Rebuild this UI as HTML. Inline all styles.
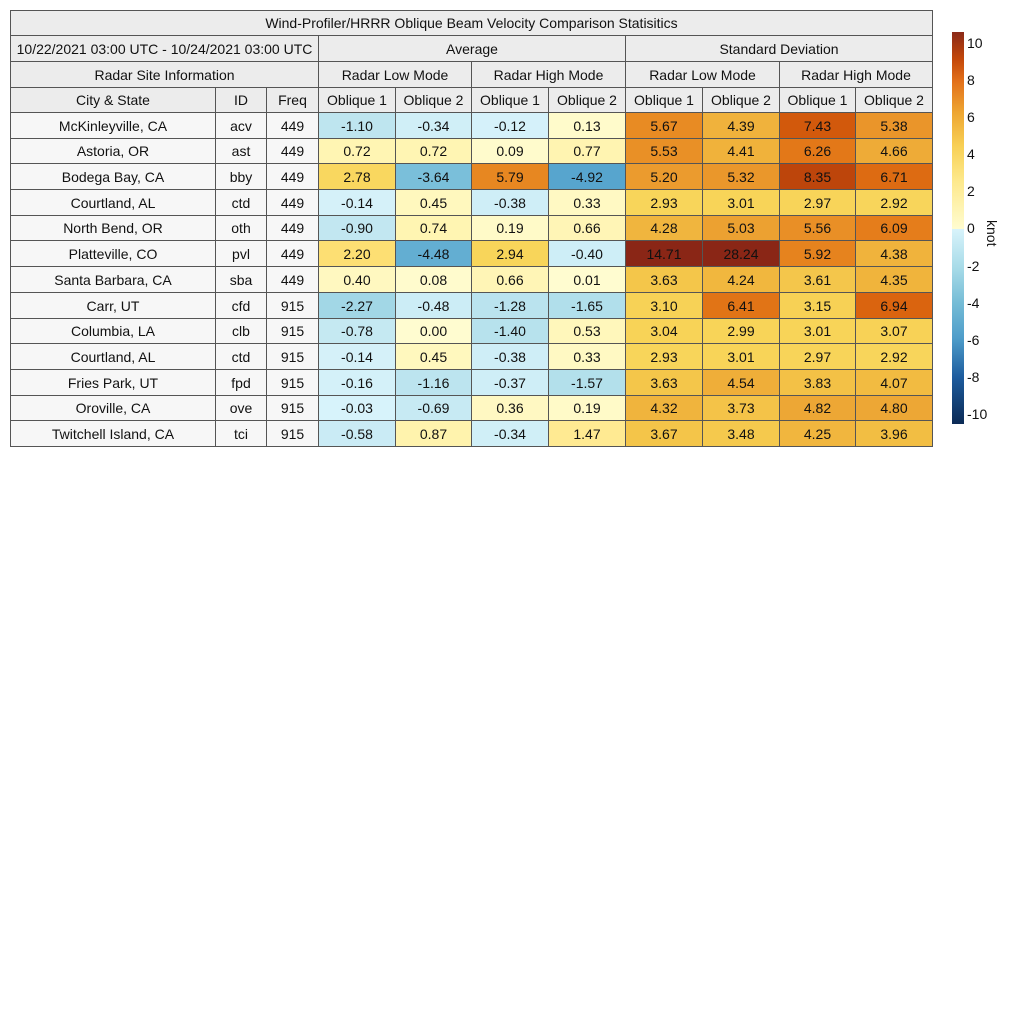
<!DOCTYPE html>
<html><head><meta charset="utf-8"><style>
body{margin:0;width:1024px;height:1024px;background:#fff;position:relative;overflow:hidden;font-family:"Liberation Sans",sans-serif;}
.c{position:absolute;box-sizing:border-box;border:1px solid #555;display:flex;align-items:center;justify-content:center;font-size:14px;color:#111;margin:0 -1px -1px 0;white-space:nowrap;}
.t{position:absolute;font-size:14px;color:#111;}
</style></head><body>
<div id="root"></div>
<div style="position:absolute;left:952px;top:32px;width:12px;height:197px;background:linear-gradient(to bottom,#8b2a18 0%,#c4480a 14%,#e2701a 25%,#eea632 41%,#f8d055 58%,#fde88a 75%,#fffcd0 100%);"></div>
<div style="position:absolute;left:952px;top:229px;width:12px;height:195px;background:linear-gradient(to bottom,#d8f3fb 0%,#a7dbe8 20%,#75bcd6 38%,#4e9dca 56%,#1d5c9e 76%,#0b2a55 100%);"></div>
<div class="t" style="left:967px;top:35px">10</div>
<div class="t" style="left:967px;top:72px">8</div>
<div class="t" style="left:967px;top:109px">6</div>
<div class="t" style="left:967px;top:146px">4</div>
<div class="t" style="left:967px;top:183px">2</div>
<div class="t" style="left:967px;top:220px">0</div>
<div class="t" style="left:967px;top:258px">-2</div>
<div class="t" style="left:967px;top:295px">-4</div>
<div class="t" style="left:967px;top:332px">-6</div>
<div class="t" style="left:967px;top:369px">-8</div>
<div class="t" style="left:967px;top:406px">-10</div>
<div class="t" style="left:978px;top:220px;transform:rotate(90deg);transform-origin:left top;left:1000px">knot</div>
<script>
const R=document.getElementById('root');
function cell(x1,y1,x2,y2,txt,bg){const d=document.createElement('div');d.className='c';d.style.left=x1+'px';d.style.top=y1+'px';d.style.width=(x2-x1+1)+'px';d.style.height=(y2-y1+1)+'px';d.style.background=bg;d.textContent=txt;R.appendChild(d);}
const X=[10,215,266,318,395,471,548,625,702,779,855,932];
const H='#ececec';
cell(10,10,932,35,'Wind-Profiler/HRRR Oblique Beam Velocity Comparison Statisitics',H);
cell(10,35,318,61,'10/22/2021 03:00 UTC - 10/24/2021 03:00 UTC',H);
cell(318,35,625,61,'Average',H);
cell(625,35,932,61,'Standard Deviation',H);
cell(10,61,318,87,'Radar Site Information',H);
['Radar Low Mode','Radar High Mode','Radar Low Mode','Radar High Mode'].forEach((t,i)=>cell(X[3+2*i],61,X[5+2*i],87,t,H));
const hd=['City & State','ID','Freq','Oblique 1','Oblique 2','Oblique 1','Oblique 2','Oblique 1','Oblique 2','Oblique 1','Oblique 2'];
hd.forEach((t,i)=>cell(X[i],87,X[i+1],112,t,H));
const rows=[
['McKinleyville, CA','acv','449',-1.10,-0.34,-0.12,0.13,5.67,4.39,7.43,5.38],
['Astoria, OR','ast','449',0.72,0.72,0.09,0.77,5.53,4.41,6.26,4.66],
['Bodega Bay, CA','bby','449',2.78,-3.64,5.79,-4.92,5.20,5.32,8.35,6.71],
['Courtland, AL','ctd','449',-0.14,0.45,-0.38,0.33,2.93,3.01,2.97,2.92],
['North Bend, OR','oth','449',-0.90,0.74,0.19,0.66,4.28,5.03,5.56,6.09],
['Platteville, CO','pvl','449',2.20,-4.48,2.94,-0.40,14.71,28.24,5.92,4.38],
['Santa Barbara, CA','sba','449',0.40,0.08,0.66,0.01,3.63,4.24,3.61,4.35],
['Carr, UT','cfd','915',-2.27,-0.48,-1.28,-1.65,3.10,6.41,3.15,6.94],
['Columbia, LA','clb','915',-0.78,0.00,-1.40,0.53,3.04,2.99,3.01,3.07],
['Courtland, AL','ctd','915',-0.14,0.45,-0.38,0.33,2.93,3.01,2.97,2.92],
['Fries Park, UT','fpd','915',-0.16,-1.16,-0.37,-1.57,3.63,4.54,3.83,4.07],
['Oroville, CA','ove','915',-0.03,-0.69,0.36,0.19,4.32,3.73,4.82,4.80],
['Twitchell Island, CA','tci','915',-0.58,0.87,-0.34,1.47,3.67,3.48,4.25,3.96]];
const P=[[0,'#fffcd0'],[1,'#fff2a8'],[2,'#fee27a'],[3,'#f8d458'],[4,'#f2bd42'],[5,'#eca232'],[6,'#e6801c'],[7,'#d9620e'],[8,'#c84c0a'],[9,'#a8380e'],[10.5,'#8a2616']];
const N=[[0,'#d8f3fb'],[1,'#c0e6f0'],[2,'#a9dbe8'],[3,'#8ecbe0'],[4,'#6fb8d6'],[5,'#55a3cd'],[6,'#3d8dc2'],[8,'#1a5a9e'],[10.5,'#0b2a55']];
function hx(h){return [1,3,5].map(i=>parseInt(h.substr(i,2),16));}
function col(v){let s=v<0?N:P;let a=Math.min(Math.abs(v),10.5);for(let i=0;i<s.length-1;i++){if(a<=s[i+1][0]){const f=(a-s[i][0])/(s[i+1][0]-s[i][0]);const c1=hx(s[i][1]),c2=hx(s[i+1][1]);return 'rgb('+c1.map((c,j)=>Math.round(c+(c2[j]-c)*f)).join(',')+')';}}return s[s.length-1][1];}
const y0=112,rh=(446-112)/13;
rows.forEach((r,k)=>{const a=Math.round(y0+k*rh),b=Math.round(y0+(k+1)*rh);
for(let i=0;i<11;i++){if(i<3)cell(X[i],a,X[i+1],b,r[i],'#f7f7f7');else{const v=r[i];cell(X[i],a,X[i+1],b,v.toFixed(2),col(v));}}});
</script>
</body></html>
